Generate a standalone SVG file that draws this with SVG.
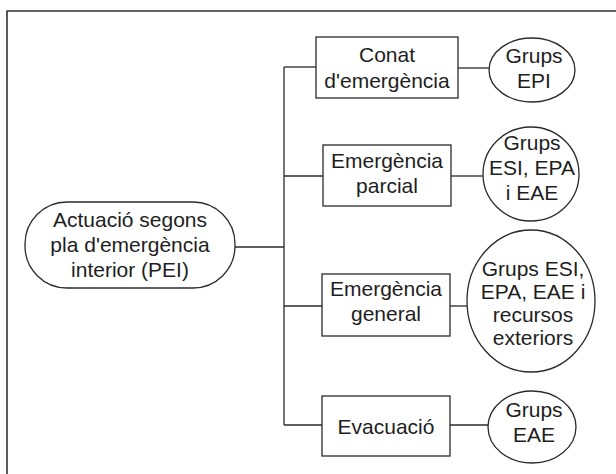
<svg xmlns="http://www.w3.org/2000/svg" width="616" height="474" viewBox="0 0 616 474">
<style>
.shape{fill:#fff;stroke:#2a2a2a;stroke-width:1.3}
.line{fill:none;stroke:#2a2a2a;stroke-width:1.3}
.frame{fill:none;stroke:#333;stroke-width:1.6}
text{font-family:"Liberation Sans",Arial,Helvetica,sans-serif;font-size:21px;fill:#1e1e1e;text-anchor:middle}
</style>
<rect width="616" height="474" fill="#fff"/>
<path class="frame" d="M7,474 V11 H616"/>
<g id="connectors">
<path class="line" d="M235,247 H284"/>
<path class="line" d="M284,67 V425"/>
<path class="line" d="M284,67 H316"/>
<path class="line" d="M284,176 H323"/>
<path class="line" d="M284,306 H322"/>
<path class="line" d="M284,425 H322"/>
<path class="line" d="M458,68 H489"/>
<path class="line" d="M451,176 H483"/>
<path class="line" d="M450,306 H467"/>
<path class="line" d="M450,425 H488"/>
</g>
<g id="pei">
<rect class="shape" x="25" y="202" width="210" height="86" rx="42" ry="42"/>
<text x="130" y="227">Actuació segons</text>
<text x="130" y="252">pla d'emergència</text>
<text x="130" y="277">interior (PEI)</text>
</g>
<g id="conat">
<rect class="shape" x="316" y="37" width="142" height="61"/>
<text x="387" y="62">Conat</text>
<text x="387" y="88">d'emergència</text>
</g>
<g id="parcial">
<rect class="shape" x="323" y="145" width="128" height="61"/>
<text x="387" y="168">Emergència</text>
<text x="387" y="193">parcial</text>
</g>
<g id="general">
<rect class="shape" x="322" y="274" width="128" height="62"/>
<text x="386" y="296">Emergència</text>
<text x="386" y="321">general</text>
</g>
<g id="evacuacio">
<rect class="shape" x="322" y="396" width="128" height="60"/>
<text x="386" y="434">Evacuació</text>
</g>
<g id="grups-epi">
<ellipse class="shape" cx="532" cy="70" rx="43" ry="32"/>
<text x="534" y="63">Grups</text>
<text x="534" y="88">EPI</text>
</g>
<g id="grups-esi-epa-eae">
<ellipse class="shape" cx="531" cy="174" rx="48" ry="47"/>
<text x="532" y="150">Grups</text>
<text x="532" y="175">ESI, EPA</text>
<text x="532" y="200">i EAE</text>
</g>
<g id="grups-recursos">
<ellipse class="shape" cx="531" cy="301" rx="64" ry="71"/>
<text x="533" y="276">Grups ESI,</text>
<text x="533" y="299">EPA, EAE i</text>
<text x="533" y="322">recursos</text>
<text x="533" y="345">exteriors</text>
</g>
<g id="grups-eae">
<ellipse class="shape" cx="532" cy="427" rx="44" ry="36"/>
<text x="534" y="417">Grups</text>
<text x="534" y="442">EAE</text>
</g>
</svg>
